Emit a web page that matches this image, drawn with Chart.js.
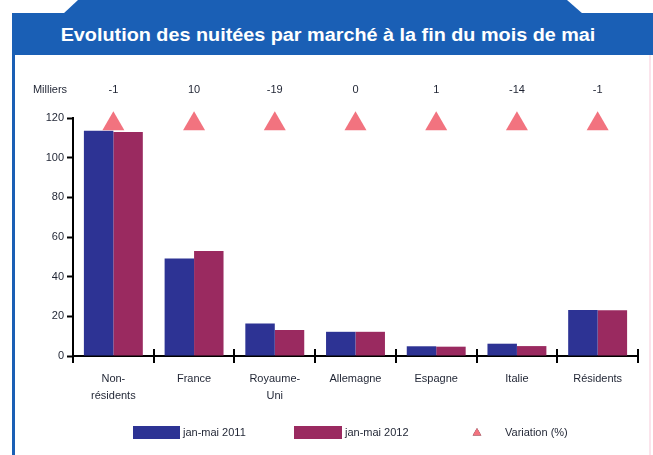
<!DOCTYPE html>
<html>
<head>
<meta charset="utf-8">
<script src="https://cdn.jsdelivr.net/npm/chart.js@4.4.0/dist/chart.umd.min.js"></script>
<style>
html, body { margin: 0; padding: 0; background: #fff; }
#wrap { position: relative; width: 653px; height: 455px; overflow: hidden; }
#tab { position: absolute; left: 63px; top: 0; width: 520px; height: 14px; background: #1a5fb5;
       clip-path: polygon(15px 0, 504px 0, 520px 100%, 0 100%); }
#band { position: absolute; left: 12px; top: 13px; width: 641px; height: 42px; background: #1a5fb5; }
#title { position: absolute; left: 40px; top: 14px; width: 576px; height: 42px;
         font: bold 18px "Liberation Sans", Arial, sans-serif; line-height: 42px;
         text-align: center; color: #fff; white-space: nowrap;
         transform: scaleX(1.1); transform-origin: 288px 50%; }
#leftline { position: absolute; left: 12px; top: 55px; width: 3px; height: 400px; background: #1a5fb5; }
#rightline { position: absolute; left: 649px; top: 55px; width: 2px; height: 400px; background: #fbe4ec; }
canvas { position: absolute; left: 0; top: 0; }
</style>
</head>
<body>
<div id="wrap">
  <div id="tab"></div>
  <div id="band"></div>
  <div id="title">Evolution des nuitées par marché à la fin du mois de mai</div>
  <div id="leftline"></div>
  <div id="rightline"></div>
  <canvas id="chart" width="653" height="455"></canvas>
</div>
<script>
// values (milliers de nuitées)
const categories = [['Non-', 'résidents'], 'France', ['Royaume-', 'Uni'], 'Allemagne', 'Espagne', 'Italie', 'Résidents']
const nuitees2011 = [113.6, 49.2, 16.4, 12.2, 4.9, 6.2, 23.2]
const nuitees2012 = [112.9, 53.0, 13.1, 12.2, 4.7, 5.0, 23.1]
const variation = ['-1', '10', '-19', '0', '1', '-14', '-1']
// the triangles all sit on one row near the top of the plot
const markerRow = [117, 117, 117, 117, 117, 117, 117]
const yTicks = [0, 20, 40, 60, 80, 100, 120]

const blue = '#2d3394'
const purple = '#9a2a60'
const pink = '#f2737f'
const textColor = '#1f2433'
const font = '"Liberation Sans", Arial, sans-serif'

const extras = {
    id: 'extras',
    afterDraw(chart) {
        const ctx = chart.ctx
        const x = chart.scales.x
        const y = chart.scales.y
        ctx.save()
        ctx.font = '11px ' + font
        ctx.fillStyle = textColor
        ctx.textBaseline = 'middle'
        ctx.textAlign = 'center'
        ctx.fillText('Milliers', 50, 90)
        variation.forEach((v, i) => {
            ctx.fillText(v, x.getPixelForValue(i), 90)
        })

        // tick marks crossing the category axis
        ctx.strokeStyle = '#000'
        ctx.lineWidth = 2
        const y0 = y.getPixelForValue(0)
        for (let i = 0; i <= categories.length; i++) {
            const px = Math.round(x.getPixelForValue(i - 0.5))
            ctx.beginPath()
            ctx.moveTo(px, y0 - 7)
            ctx.lineTo(px, y0 + 7)
            ctx.stroke()
        }

        // legend
        const ly = 433
        ctx.textAlign = 'left'
        ctx.fillStyle = blue
        ctx.fillRect(133, ly - 7, 47, 13)
        ctx.fillStyle = textColor
        ctx.fillText('jan-mai 2011', 183, ly)
        ctx.fillStyle = purple
        ctx.fillRect(294, ly - 7, 48, 13)
        ctx.fillStyle = textColor
        ctx.fillText('jan-mai 2012', 345, ly)
        Chart.helpers.drawPoint(ctx, { pointStyle: 'triangle', radius: 5, borderWidth: 0 }, 477, ly)
        ctx.fillStyle = pink
        ctx.fill()
        ctx.fillStyle = textColor
        ctx.fillText('Variation (%)', 505, ly)
        ctx.restore()
    }
}

new Chart(document.getElementById('chart'), {
    type: 'bar',
    data: {
        labels: categories,
        datasets: [
            {
                type: 'line',
                label: 'Variation (%)',
                data: markerRow,
                showLine: false,
                pointStyle: 'triangle',
                pointRadius: 12.7,
                pointHoverRadius: 12.7,
                pointBackgroundColor: pink,
                pointBorderWidth: 0,
                clip: false,
                order: 0
            },
            {
                label: 'jan-mai 2011',
                data: nuitees2011,
                backgroundColor: blue,
                categoryPercentage: 0.73,
                barPercentage: 1.0,
                order: 1
            },
            {
                label: 'jan-mai 2012',
                data: nuitees2012,
                backgroundColor: purple,
                categoryPercentage: 0.73,
                barPercentage: 1.0,
                order: 1
            }
        ]
    },
    options: {
        responsive: false,
        animation: false,
        layout: { padding: { left: 33, right: 15, top: 118, bottom: 49 } },
        plugins: {
            legend: { display: false },
            tooltip: { enabled: false }
        },
        scales: {
            x: {
                afterFit: s => { s.height = 50 },
                grid: { display: false, drawTicks: false },
                border: { color: '#000', width: 2 },
                ticks: {
                    color: textColor,
                    font: { family: font, size: 11, lineHeight: 1.6 },
                    padding: 14,
                    maxRotation: 0,
                    autoSkip: false
                }
            },
            y: {
                min: 0,
                max: 120,
                afterFit: s => { s.width = 40 },
                afterBuildTicks: s => { s.ticks = yTicks.map(v => ({ value: v })) },
                grid: { drawOnChartArea: false, tickLength: 6, tickColor: '#000', tickWidth: 2 },
                border: { color: '#000', width: 2 },
                ticks: {
                    color: textColor,
                    font: { family: font, size: 11 },
                    padding: 3
                }
            }
        }
    },
    plugins: [extras]
})
</script>
</body>
</html>
